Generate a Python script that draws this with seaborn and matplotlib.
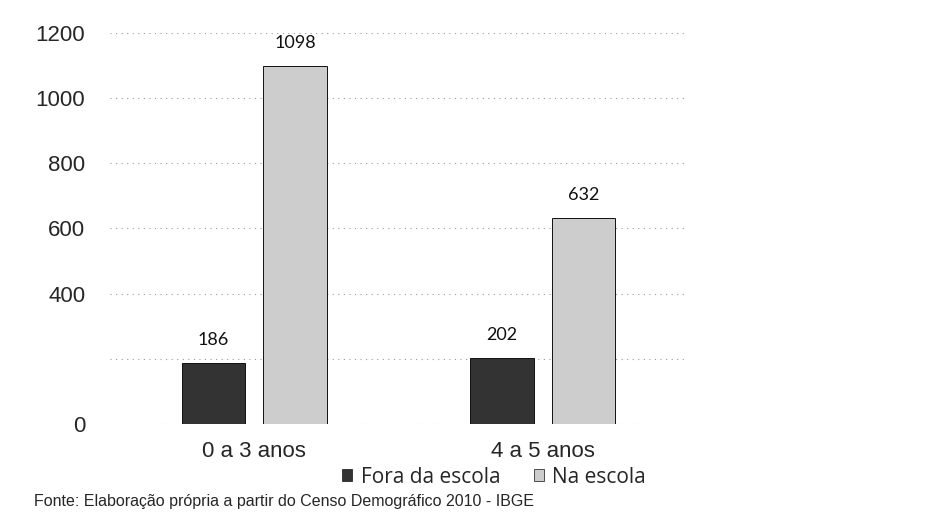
import pandas as pd
import seaborn as sns
import matplotlib.pyplot as plt
from matplotlib.patches import Patch

# Crianças por faixa etária, fora e na escola (Censo 2010)
faixas = ["0 a 3 anos", "4 a 5 anos"]
situacao = ["Fora da escola", "Na escola"]
fora_escola = [186, 202]
na_escola = [1098, 632]
y_ticks = [0, 200, 400, 600, 800, 1000, 1200]
y_labels = ["0", "", "400", "600", "800", "1000", "1200"]

df = pd.DataFrame({
    "faixa": faixas * 2,
    "situacao": [situacao[0]] * 2 + [situacao[1]] * 2,
    "valor": fora_escola + na_escola,
})

sns.set_style("white")
plt.rcParams["font.family"] = ["Liberation Sans", "DejaVu Sans"]

cores = {"Fora da escola": "#333333", "Na escola": "#cdcdcd"}

fig = plt.figure(figsize=(9.5, 5.22), dpi=100)
ax = fig.add_axes([0.116, 0.188, 0.607, 0.749])

sns.barplot(data=df, x="faixa", y="valor", hue="situacao", palette=cores,
            width=0.566, gap=0.22, ax=ax, legend=False,
            edgecolor="#111111", linewidth=0.7)

for bars in ax.containers:
    ax.bar_label(bars, padding=11, fontsize=13, family=["Lato", "DejaVu Sans"],
                 color="#111111")

ax.set_xlim(-0.5, 1.5)
ax.set_ylim(0, 1200)
ax.set_yticks(y_ticks)
ax.set_yticklabels(y_labels)
ax.grid(axis="y", linestyle=(0, (1, 4)), color="#9a9a9a", linewidth=0.8)
ax.set_axisbelow(True)
ax.set_xlabel("")
ax.set_ylabel("")
sns.despine(ax=ax, left=True, bottom=True)
ax.tick_params(axis="y", length=0, pad=18, labelsize=16)
ax.tick_params(axis="x", length=0, pad=12, labelsize=16)

handles = [Patch(facecolor=cores[s], edgecolor="#111111", linewidth=0.5) for s in situacao]
fig.legend(handles, situacao, loc="center", bbox_to_anchor=(0.52, 0.086),
           ncol=2, frameon=False, handlelength=0.5, handleheight=0.5,
           handletextpad=0.4, columnspacing=1.6, borderpad=0.1,
           prop={"family": ["Open Sans", "DejaVu Sans"], "size": 15})

fig.text(0.036, 0.04, "Fonte: Elaboração própria a partir do Censo Demográfico 2010 - IBGE",
         fontsize=11.5, va="center")

fig.savefig("out.png", dpi=100)
